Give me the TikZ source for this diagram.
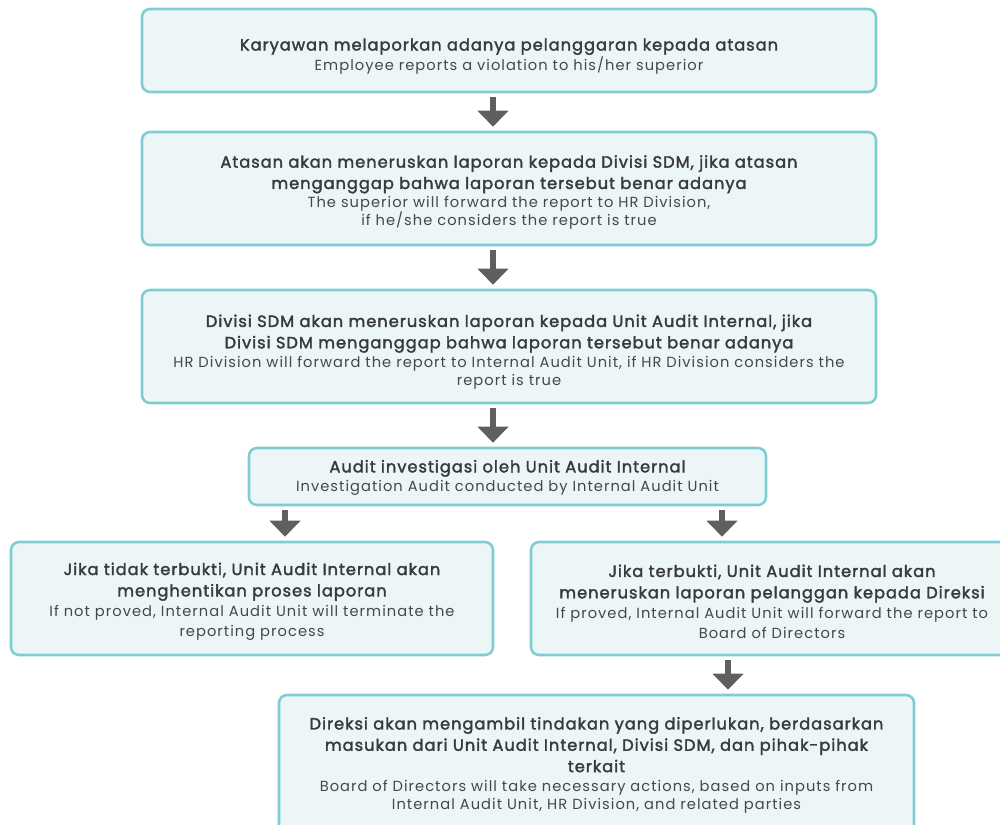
\documentclass[tikz,border=0pt]{standalone}
\usepackage{fontspec}
\usetikzlibrary{arrows.meta}
\newfontfamily\widefont[LetterSpace=7]{Poppins}
\newfontfamily\widemed[LetterSpace=6,FakeBold=2]{Poppins}
\definecolor{boxline}{HTML}{7DCDD3}
\definecolor{boxfill}{HTML}{ECF6F7}
\definecolor{txt}{HTML}{3A3A3A}
\definecolor{txtl}{HTML}{474747}
\definecolor{arrowgray}{HTML}{5F5F5F}
\newcommand\wbold{\widemed\fontsize{12.2}{13.5}\selectfont\color{txt}}
\newcommand\wreg{\widefont\fontsize{11}{13.5}\selectfont\color{txtl}}
\tikzset{
  flowbox/.style={draw=boxline, fill=boxfill, line width=1.9pt, rounded corners=6pt,
    inner sep=0pt},
  flowtext/.style={align=center, inner sep=0pt, font=\fontsize{10}{13.5}\selectfont},
  arr/.style={draw=arrowgray, line width=5pt,
    -{Triangle[width=22.5pt,length=12pt]}, shorten <=3pt, shorten >=3pt}
}
\begin{document}
\begin{tikzpicture}[x=0.75pt,y=-0.75pt]
\useasboundingbox (0,0) rectangle (1000,825);
\clip (0,0) rectangle (1000,825);
% boxes
\node[flowbox, minimum width=550.5pt, minimum height=62.25pt] (b1) at (509,50.5) {};
\node[flowbox, minimum width=550.5pt, minimum height=84.75pt] (b2) at (509,188.5) {};
\node[flowbox, minimum width=550.5pt, minimum height=84.75pt] (b3) at (509,346.5) {};
\node[flowbox, minimum width=387.75pt, minimum height=42.75pt] (b4) at (507.5,476.5) {};
\node[flowbox, minimum width=361.5pt, minimum height=84.75pt] (b5) at (252,598.5) {};
\node[flowbox, minimum width=361.5pt, minimum height=84.75pt] (b6) at (772,598.5) {};
\node[flowbox, minimum width=476.25pt, minimum height=103.5pt] (b7) at (596.5,764) {};
% texts
\node[flowtext] (t1) at ([yshift=-4.5pt]b1.center)
  {{\wbold Karyawan melaporkan adanya pelanggaran kepada atasan}\\[0.5pt]
   {\wreg Employee reports a violation to his/her superior}};
\node[flowtext] (t2) at ([yshift=-3pt]b2.center)
  {{\wbold Atasan akan meneruskan laporan kepada Divisi SDM, jika atasan}\\[2.5pt]
   {\wbold menganggap bahwa laporan tersebut benar adanya}\\[0.75pt]
   {\wreg The superior will forward the report to HR Division,}\\
   {\wreg if he/she considers the report is true}};
\node[flowtext] (t3) at ([yshift=-4pt]b3.center)
  {{\wbold Divisi SDM akan meneruskan laporan kepada Unit Audit Internal, jika}\\[2.5pt]
   {\wbold Divisi SDM menganggap bahwa laporan tersebut benar adanya}\\[0.75pt]
   {\wreg HR Division will forward the report to Internal Audit Unit, if HR Division considers the}\\
   {\wreg report is true}};
\node[flowtext] (t4) at ([yshift=-0.75pt]b4.center)
  {{\wbold Audit investigasi oleh Unit Audit Internal}\\[0.5pt]
   {\wreg Investigation Audit conducted by Internal Audit Unit}};
\node[flowtext] (t5) at ([yshift=-2.25pt]b5.center)
  {{\wbold Jika tidak terbukti, Unit Audit Internal akan}\\[2.5pt]
   {\wbold menghentikan proses laporan}\\[1.5pt]
   {\wreg If not proved, Internal Audit Unit will terminate the}\\[1.5pt]
   {\wreg reporting process}};
\node[flowtext] (t6) at ([yshift=-2.25pt]b6.center)
  {{\wbold Jika terbukti, Unit Audit Internal akan}\\[2.5pt]
   {\wbold meneruskan laporan pelanggan kepada Direksi}\\[1.5pt]
   {\wreg If proved, Internal Audit Unit will forward the report to}\\[1.5pt]
   {\wreg Board of Directors}};
\node[flowtext] (t7) at ([yshift=-0.75pt]b7.center)
  {{\wbold Direksi akan mengambil tindakan yang diperlukan, berdasarkan}\\[2.5pt]
   {\wbold masukan dari Unit Audit Internal, Divisi SDM, dan pihak-pihak}\\[2.5pt]
   {\wbold terkait}\\[0.75pt]
   {\wreg Board of Directors will take necessary actions, based on inputs from}\\
   {\wreg Internal Audit Unit, HR Division, and related parties}};
% connectors
\coordinate (a12) at ([xshift=-12pt]b2.north);
\coordinate (a23) at ([xshift=-12pt]b3.north);
\coordinate (a34) at ([xshift=-10.875pt]b4.north);
\coordinate (a45) at ([xshift=24.75pt]b5.north);
\coordinate (a46) at ([xshift=-37.5pt]b6.north);
\coordinate (a67) at ([xshift=98.625pt]b7.north);
\draw[arr] (a12 |- b1.south) -- (a12);
\draw[arr] (a23 |- b2.south) -- (a23);
\draw[arr] (a34 |- b3.south) -- (a34);
\draw[arr] (a45 |- b4.south) -- (a45);
\draw[arr] (a46 |- b4.south) -- (a46);
\draw[arr] (a67 |- b6.south) -- (a67);
\end{tikzpicture}
\end{document}
